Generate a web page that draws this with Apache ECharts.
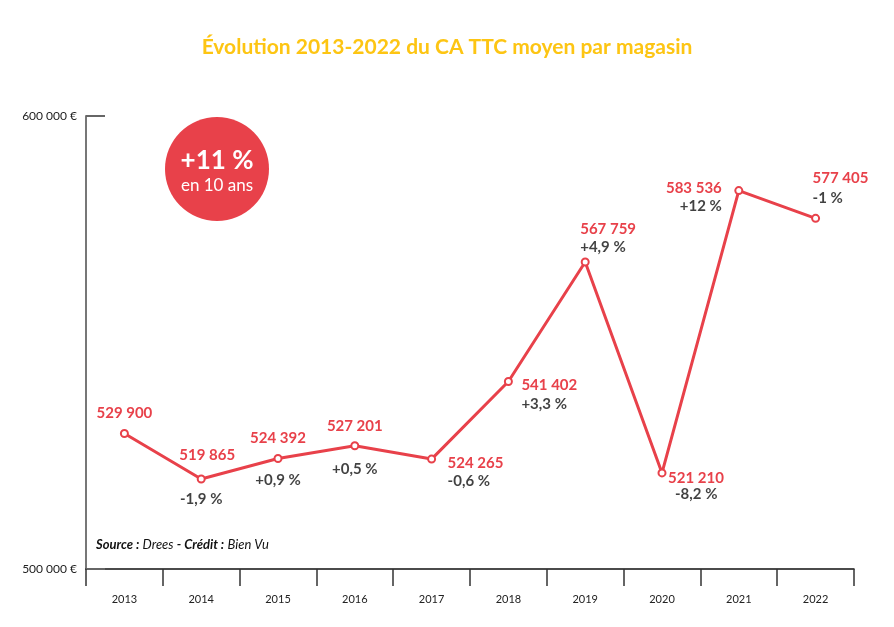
<!DOCTYPE html>
<html>
	<head>
		<meta charset="UTF-8">
		<title>CA TTC moyen par magasin</title>
		<style>
			html, body { margin: 0; padding: 0; background: #fff; }
			#box { width: 894px; height: 627px; }
		</style>
	</head>
	<body>
		<div id="box"></div>

		<script type="text/javascript" src="https://cdn.jsdelivr.net/npm/echarts@6/dist/echarts.min.js"></script>
		<script type="text/javascript">
			// donnees
			var years = ['2013', '2014', '2015', '2016', '2017', '2018', '2019', '2020', '2021', '2022'];
			var caMoyen = [529900, 519865, 524392, 527201, 524265, 541402, 567759, 521210, 583536, 577405];
			var evolution = [null, -1.9, 0.9, 0.5, -0.6, 3.3, 4.9, -8.2, 12, -1];
			var yTicks = [500000, 600000];

			var red = '#e8414a';
			var font = 'Lato, "Open Sans", sans-serif';

			// placement des etiquettes : [align, dx, dy] pour le montant puis pour l'evolution
			var placeValue = [
				['center', 0, -20], ['center', 6, -24], ['center', 0, -20], ['center', 0, -20], ['left', 16, 4],
				['left', 13, 4], ['left', -5, -33], ['left', 6, 5], ['right', -17, -2], ['left', -3, -40]
			];
			var placeChange = [
				null, ['center', 0, 20], ['center', 0, 22], ['center', 0, 23], ['left', 16, 22],
				['left', 13, 23], ['left', -5, -15], ['left', 13, 21], ['right', -17, 16], ['left', -3, -20]
			];

			function fmtNombre(v) {
				return String(v).replace(/\B(?=(\d{3})+(?!\d))/g, ' ');
			}
			function fmtPct(v) {
				return (v > 0 ? '+' : '') + String(v).replace('.', ',') + ' %';
			}

			var valueData = caMoyen.map(function (v, i) {
				var p = placeValue[i];
				return {
					value: v,
					label: { align: p[0], offset: [p[1], p[2]] }
				};
			});
			var changeData = caMoyen.map(function (v, i) {
				var p = placeChange[i];
				if (!p) {
					return { value: v, label: { show: false } };
				}
				return {
					value: v,
					label: { align: p[0], offset: [p[1], p[2]], formatter: fmtPct(evolution[i]) }
				};
			});

			var myechart = echarts.init(document.getElementById('box'));

			var option = {
				animation: false,
				title: {
					text: 'Évolution 2013-2022 du CA TTC moyen par magasin',
					left: 'center',
					top: 32,
					textStyle: { color: '#fdc513', fontSize: 21, fontWeight: 'bold', fontFamily: font }
				},
				grid: { left: 86, right: 40, top: 116, bottom: 58 },
				xAxis: {
					type: 'category',
					data: years,
					boundaryGap: true,
					axisLine: { lineStyle: { color: '#111', width: 1.5 } },
					axisTick: {
						show: true,
						length: 17,
						lineStyle: { color: '#333', width: 1.5 }
					},
					axisLabel: { color: '#222', fontSize: 11, fontFamily: font, margin: 25 }
				},
				yAxis: {
					type: 'value',
					min: yTicks[0],
					max: yTicks[1],
					interval: yTicks[1] - yTicks[0],
					splitLine: { show: false },
					axisLine: { show: true, lineStyle: { color: '#777', width: 2 } },
					axisTick: { show: true, inside: true, length: 19, lineStyle: { color: '#666', width: 2 } },
					axisLabel: {
						color: '#222',
						fontSize: 12,
						fontFamily: font,
						margin: 9,
						formatter: function (v) { return fmtNombre(v) + ' €'; }
					}
				},
				graphic: [
					{
						type: 'circle',
						shape: { cx: 217, cy: 169, r: 52 },
						style: { fill: red }
					},
					{
						type: 'text',
						x: 217, y: 161,
						style: {
							text: '+11 %', fill: '#fff', font: 'bold 26px ' + font,
							align: 'center', verticalAlign: 'middle'
						}
					},
					{
						type: 'text',
						x: 217, y: 186,
						style: {
							text: 'en 10 ans', fill: '#fff', font: '17px ' + font,
							align: 'center', verticalAlign: 'middle'
						}
					},
					{
						type: 'text',
						x: 96, y: 545,
						style: {
							text: '{b|Source :} {i|Drees} {b|- Crédit :} {i|Bien Vu}',
							verticalAlign: 'middle',
							rich: {
								b: { font: 'italic bold 13px ' + font, fill: '#111' },
								i: { font: 'italic 13px ' + font, fill: '#111' }
							}
						}
					}
				],
				series: [
					{
						name: 'CA TTC moyen',
						type: 'line',
						data: valueData,
						z: 3,
						symbol: 'circle',
						symbolSize: 7,
						itemStyle: { color: '#fff', borderColor: red, borderWidth: 2 },
						lineStyle: { color: red, width: 3 },
						label: {
							show: true,
							position: 'inside',
							verticalAlign: 'middle',
							color: red,
							fontSize: 15,
							fontWeight: 'bold',
							fontFamily: font,
							formatter: function (p) { return fmtNombre(p.value); }
						}
					},
					{
						name: 'Evolution',
						type: 'scatter',
						data: changeData,
						z: 2,
						symbolSize: 1,
						itemStyle: { color: 'rgba(0,0,0,0)' },
						label: {
							show: true,
							position: 'inside',
							verticalAlign: 'middle',
							color: '#111',
							fontSize: 15,
							fontWeight: 'bold',
							fontFamily: font
						}
					}
				]
			};

			myechart.setOption(option);
		</script>
	</body>
</html>
